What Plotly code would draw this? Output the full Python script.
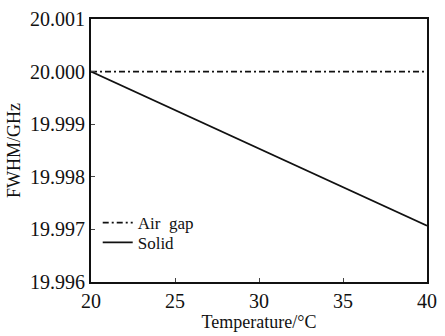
import plotly.graph_objects as go

temps = [20, 25, 30, 35, 40]
air_gap = [20.0000, 20.0000, 20.0000, 20.0000, 20.0000]
solid = [20.0000, 19.99927, 19.99854, 19.99780, 19.99707]
y_ticks = [19.996, 19.997, 19.998, 19.999, 20.000, 20.001]
y_labels = ["19.996", "19.997", "19.998", "19.999", "20.000", "20.001"]
x_ticks = [20, 25, 30, 35, 40]

ink = "#111"
lfont = dict(family="Liberation Serif", size=17, color=ink)

fig = go.Figure()
fig.add_trace(go.Scatter(x=temps, y=air_gap, mode="lines", name="Air\u00a0\u00a0gap",
                         legend="legend",
                         line=dict(color=ink, width=1.6, dash="6px,3px,2px,3px")))
fig.add_trace(go.Scatter(x=temps, y=solid, mode="lines", name="Solid",
                         legend="legend2",
                         line=dict(color=ink, width=1.6)))

fig.update_layout(
    width=445, height=336,
    margin=dict(l=91, r=8, t=14, b=54),
    paper_bgcolor="white", plot_bgcolor="white",
    font=dict(family="Liberation Serif", size=17, color=ink),
    showlegend=True,
    legend=dict(x=0.02, y=0.224, xanchor="left", yanchor="middle",
                bgcolor="rgba(0,0,0,0)", font=lfont, itemwidth=30),
    legend2=dict(x=0.02, y=0.149, xanchor="left", yanchor="middle",
                 bgcolor="rgba(0,0,0,0)", font=lfont, itemwidth=30),
)
fig.update_xaxes(range=[20, 40], tickvals=x_ticks, ticks="inside", ticklen=4,
                 showline=True, linecolor=ink, linewidth=2, mirror=True,
                 showgrid=False, zeroline=False,
                 tickfont=dict(family="Liberation Serif", size=20, color=ink),
                 title=dict(text="Temperature/°C", standoff=3,
                            font=dict(family="Liberation Serif", size=18, color=ink)))
fig.update_yaxes(range=[19.996, 20.001], tickvals=y_ticks, ticktext=y_labels,
                 ticks="inside", ticklen=4,
                 showline=True, linecolor=ink, linewidth=2, mirror=True,
                 showgrid=False, zeroline=False,
                 tickfont=dict(family="Liberation Serif", size=20, color=ink),
                 title=dict(text="FWHM/GHz", standoff=5,
                            font=dict(family="Liberation Serif", size=18, color=ink)))

fig.write_html("out.html")
